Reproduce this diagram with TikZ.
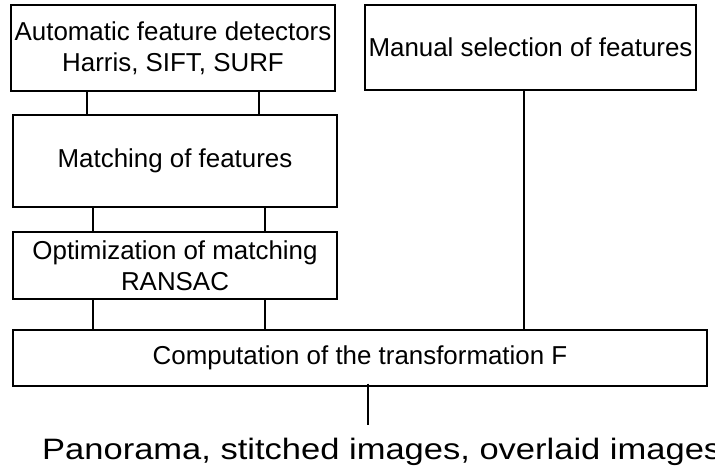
\documentclass[tikz,border=0pt]{standalone}
\usepackage{fontspec}
\setmainfont{Liberation Sans}
\usepackage{tikz}
\usetikzlibrary{calc}

\begin{document}
\begin{tikzpicture}[x=1pt, y=-1pt,
    box/.style={draw, line width=1.2pt, inner sep=0pt, align=center,
        font=\fontsize{25.9}{31}\selectfont},
    link/.style={line width=2pt}]
    % Rahmen des Bildes
    \useasboundingbox (0,0) rectangle (715,472);

    % Kästen
    \node[box, minimum width=324pt, minimum height=86pt] (auto) at (173,48)
        {Automatic feature detectors\\Harris, SIFT, SURF};
    \node[box, minimum width=324pt, minimum height=92pt] (match) at (175,161)
        {Matching of features};
    \node[box, minimum width=324pt, minimum height=67pt] (optim) at (175,265.5)
        {Optimization of matching\\RANSAC};
    \node[box, minimum width=331pt, minimum height=85pt] (manual) at (530.5,47.5)
        {Manual selection of features};
    \node[box, minimum width=694pt, minimum height=56pt] (comp) at (360,358)
        {Computation of the transformation F};
    \node[anchor=base west, inner sep=0pt] (result) at (42,459)
        {\scalebox{1.17}[1]{\fontsize{29.5}{34}\selectfont Panorama, stitched images, overlaid images}};

    % Spalten der Verbindungen
    \coordinate (c1) at (87,0);
    \coordinate (c2) at (259,0);
    \coordinate (c3) at (93,0);
    \coordinate (c4) at (265,0);
    \coordinate (c5) at (524,0);
    \coordinate (end) at (368,425);

    % Verbindungen
    \draw[link] (auto.south -| c1) -- (match.north -| c1);
    \draw[link] (auto.south -| c2) -- (match.north -| c2);
    \draw[link] (match.south -| c3) -- (optim.north -| c3);
    \draw[link] (match.south -| c4) -- (optim.north -| c4);
    \draw[link] (optim.south -| c3) -- (comp.north -| c3);
    \draw[link] (optim.south -| c4) -- (comp.north -| c4);
    \draw[link] (manual.south -| c5) -- (comp.north -| c5);
    \draw[link] ($(comp.south -| end)+(0,-3)$) -- (end);
\end{tikzpicture}
\end{document}
